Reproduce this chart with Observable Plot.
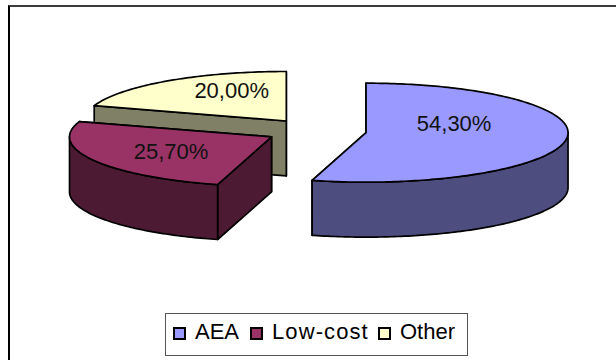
<!DOCTYPE html>
<html>
<head>
<meta charset="utf-8">
<script src="https://cdn.jsdelivr.net/npm/d3@7"></script>
<script src="https://cdn.jsdelivr.net/npm/@observablehq/plot@0.6"></script>
<style>
  html, body { margin: 0; padding: 0; background: #fff; }
  #page { position: relative; width: 616px; height: 360px; overflow: hidden; font-family: "Liberation Sans", Arial, sans-serif; }
  #frame { position: absolute; left: 8px; top: 5px; right: -4px; bottom: -4px; border-top: 2px solid #3c3c3c; border-left: 2px solid #000; box-sizing: border-box; }
  #chart { position: absolute; left: 0; top: 0; }
  #chart svg { display: block; background: transparent; }
  #legend { position: absolute; left: 165px; top: 313px; width: 303px; height: 43px; box-sizing: border-box; border: 1px solid #555; font-size: 22px; color: #000; }
  #legend .item { position: absolute; top: 0; height: 41px; line-height: 36px; white-space: nowrap; }
  #legend .swatch { position: absolute; top: 13px; left: 0; width: 13px; height: 13px; box-sizing: border-box; border: 2px solid #000; }
  #legend .name { position: absolute; left: 22px; top: 0; }
  .wide { letter-spacing: 1.1px; }
</style>
</head>
<body>
<div id="page">
  <div id="frame"></div>
  <div id="chart"></div>
  <div id="legend"></div>
</div>
<script>
// Shares of the three carrier groups, in percent.
const categories = ["AEA", "Low-cost", "Other"];
const shares = [54.3, 25.7, 20.0];
const topColors = ["#9999ff", "#993366", "#ffffcc"];
const sideColors = ["#4d4d80", "#4d1a33", "#808066"];

// Exploded-pie geometry, in units of the pie radius.
const explode = 0.25;
const depth = 1.11;
const labelReach = [0.44, 0.565, 0.46];
const labelLift = [0.24, -0.03, 0.24];

const pie = d3.pie().sort(null).value((d) => d).startAngle(0).endAngle(2 * Math.PI);
const arcs = pie(shares);
const step = Math.PI / 180;

function arcPoints(from, to, cx, cy) {
  const pts = [];
  for (let a = from; a < to; a += step) pts.push({ u: cx + Math.sin(a), v: cy + Math.cos(a) });
  pts.push({ u: cx + Math.sin(to), v: cy + Math.cos(to) });
  return pts;
}
const lower = (p) => ({ name: p.name, u: p.u, v: p.v - depth });

const faceMarks = [];
const labelRows = [];
// Back slices first so the nearer ones paint over them.
[2, 1, 0].forEach((i) => {
  const { startAngle: a0, endAngle: a1 } = arcs[i];
  const mid = (a0 + a1) / 2;
  const cx = explode * Math.sin(mid);
  const cy = explode * Math.cos(mid);
  const apex = { u: cx, v: cy };
  const rim = arcPoints(a0, a1, cx, cy);
  const style = { x: "u", y: "v", stroke: "#000", strokeWidth: 1.7, strokeLinejoin: "round" };

  // Radial cut faces, the one further from the viewer first
  const edges = [rim[0], rim[rim.length - 1]].sort((p, q) => q.v - p.v);
  for (const edge of edges) {
    const face = [apex, edge, lower(edge), lower(apex), apex];
    faceMarks.push(Plot.line(face, { ...style, fill: sideColors[i] }));
  }
  // Outer wall: only the part of the rim that faces the viewer
  const w0 = Math.max(a0, Math.PI / 2);
  const w1 = Math.min(a1, 3 * Math.PI / 2);
  if (w1 > w0) {
    const wallTop = arcPoints(w0, w1, cx, cy);
    const wall = [...wallTop, ...wallTop.slice().reverse().map(lower), wallTop[0]];
    faceMarks.push(Plot.line(wall, { ...style, fill: sideColors[i] }));
  }
  // Top face
  const top = [apex, ...rim, apex].map((p) => ({ ...p, name: categories[i] }));
  faceMarks.push(Plot.line(top, { ...style, fill: "name" }));

  labelRows.push({
    u: cx + labelReach[i] * Math.sin(mid),
    v: cy + labelReach[i] * Math.cos(mid) + labelLift[i],
    text: shares[i].toFixed(2).replace(".", ",") + "%"
  });
});

const chart = Plot.plot({
  width: 616,
  height: 313,
  margin: 0,
  x: { axis: null, domain: [-1, 1], range: [113.5, 517.5] },
  y: { axis: null, domain: [-1, 1], range: [180, 81] },
  color: { domain: categories, range: topColors },
  marks: [
    ...faceMarks,
    Plot.text(labelRows, {
      x: "u", y: "v", text: "text",
      fontSize: 22, fontFamily: "Liberation Sans, Arial, sans-serif", fill: "#111"
    })
  ]
});
document.getElementById("chart").append(chart);

// Legend uses the chart's own colour scale.
const color = chart.scale("color");
const legendLeft = [7, 84, 212];
const legend = d3.select("#legend");
categories.forEach((name, i) => {
  const item = legend.append("div").attr("class", "item").style("left", legendLeft[i] + "px");
  item.append("div").attr("class", "swatch").style("background", color.apply(name));
  item.append("div").attr("class", name === "Low-cost" ? "name wide" : "name").text(name);
});
</script>
</body>
</html>
